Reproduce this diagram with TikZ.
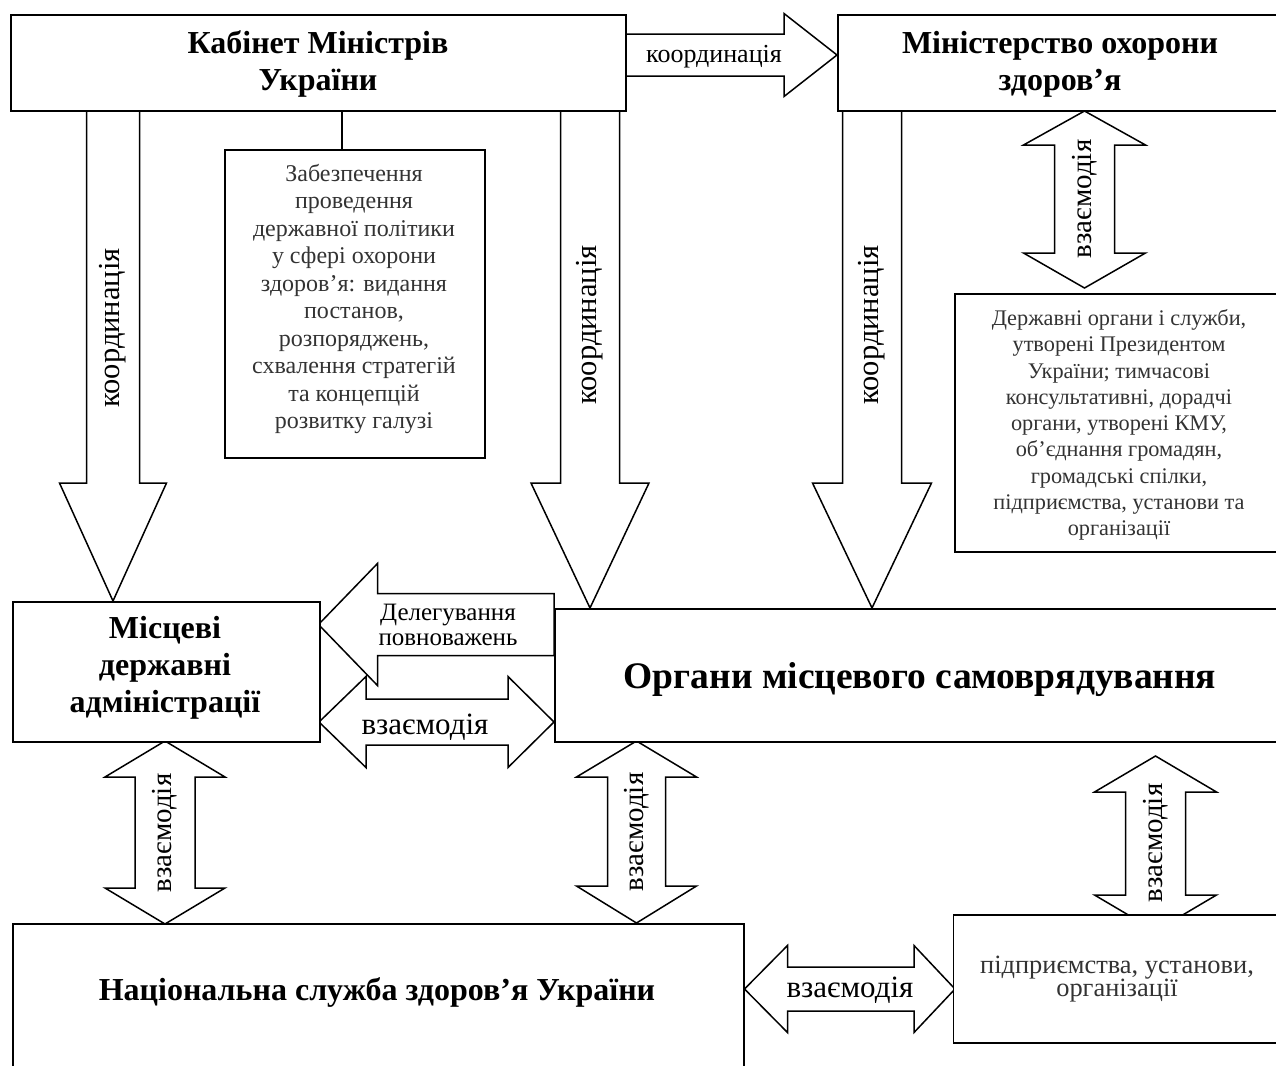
\documentclass[tikz,border=0pt]{standalone}
\usepackage{fontspec}
\setmainfont{Liberation Serif}
\newcommand\vsingle[6]{% cx ytop ybase ytip sh hh
  \draw[arr] ({#1-#5},#2) -- ({#1-#5},#3) -- ({#1-#6},#3) -- (#1,#4) -- ({#1+#6},#3) -- ({#1+#5},#3) -- ({#1+#5},#2) -- cycle;}
\newcommand\vdouble[7]{% cx ytop ybot sh hh hltop hlbot
  \draw[arr] (#1,#2) -- ({#1+#5},{#2+#6}) -- ({#1+#4},{#2+#6}) -- ({#1+#4},{#3-#7}) -- ({#1+#5},{#3-#7}) -- (#1,#3) -- ({#1-#5},{#3-#7}) -- ({#1-#4},{#3-#7}) -- ({#1-#4},{#2+#6}) -- ({#1-#5},{#2+#6}) -- cycle;}
\newcommand\hdouble[7]{% xl xr cy sh hh hll hlr
  \draw[arr] (#1,#3) -- ({#1+#6},{#3-#5}) -- ({#1+#6},{#3-#4}) -- ({#2-#7},{#3-#4}) -- ({#2-#7},{#3-#5}) -- (#2,#3) -- ({#2-#7},{#3+#5}) -- ({#2-#7},{#3+#4}) -- ({#1+#6},{#3+#4}) -- ({#1+#6},{#3+#5}) -- cycle;}
\newcommand\hsingle[6]{% xtail xbase xtip cy sh hh
  \draw[arr] (#1,{#4-#5}) -- (#2,{#4-#5}) -- (#2,{#4-#6}) -- (#3,#4) -- (#2,{#4+#6}) -- (#2,{#4+#5}) -- (#1,{#4+#5}) -- cycle;}
\begin{document}
\begin{tikzpicture}[x=1bp,y=-1bp,
  arr/.style={draw=black, fill=white, line width=1.5bp, line join=miter},
  box/.style={draw=black, fill=white, line width=1.7bp, rectangle, inner sep=0pt, anchor=north west},
  title/.style={font=\bfseries\fontsize{32bp}{37bp}\selectfont, align=center, text=black},
  body/.style={font=\fontsize{24bp}{27.5bp}\selectfont, align=center, text=black!80},
  vlab/.style={font=\fontsize{30.5bp}{34bp}\selectfont, rotate=90, text=black},
  ilab/.style={font=\fontsize{29bp}{33bp}\selectfont, rotate=90, text=black},
  hlab/.style={font=\fontsize{31bp}{35bp}\selectfont, text=black}]
\useasboundingbox (0,0) rectangle (1276,1066);
\fill[white] (0,0) rectangle (1276,1066);
\clip (0,0) rectangle (1276,1066);

% ---------- block arrows ----------
% KMU -> MOZ
\hsingle{625}{784}{837}{55}{21}{41.5}
% coordination down arrows
\vsingle{113}{110}{483}{601}{26.5}{53.5}
\vsingle{590}{110}{483}{608}{29.5}{59}
\vsingle{872}{110}{483}{608}{29.5}{59.5}
% MOZ <-> state bodies
\vdouble{1084.5}{111}{288}{30}{61}{34}{35}
% delegation
\hsingle{554}{377.5}{318.5}{624.5}{31}{61}
% interaction MDA <-> OMS
\hdouble{319}{554}{722}{23}{45.5}{47}{46}
% bottom vertical interactions
\vdouble{165}{741}{924}{30}{60}{36}{36}
\vdouble{636.5}{741}{923}{29}{60}{36}{37}
\vdouble{1155.5}{756}{931}{30}{61}{36}{36}
% NSZU <-> enterprises
\hdouble{744.5}{955}{989}{22}{43.5}{43}{41}

% ---------- boxes ----------
\node[box, minimum width=615bp, minimum height=96bp] (kmu) at (10,14) {};
\node[box, minimum width=463bp, minimum height=96bp] (moz) at (837,14) {};
\node[box, minimum width=260bp, minimum height=308bp] (zab) at (224,149) {};
\node[box, minimum width=346bp, minimum height=258bp] (derzh) at (954,293) {};
\node[box, minimum width=307bp, minimum height=140bp] (mda) at (12,601) {};
\node[box, minimum width=746bp, minimum height=133bp] (oms) at (554,608) {};
\node[box, minimum width=731bp, minimum height=177bp] (nszu) at (12,923) {};
\node[box, minimum width=348bp, minimum height=128bp] (pidpr) at (952.5,914) {};

\coordinate (c1) at (342,110);
\draw[line width=1.5bp] (c1) -- (c1 |- zab.north);

% ---------- texts ----------
\node[title] (tkmu) at (318,64) {Кабінет Міністрів\\України};
\node[title] (tmoz) at (1060,64) {Міністерство охорони\\здоров’я};
\node[body] (tzab) at (354,299) {Забезпечення\\проведення\\державної політики\\у сфері охорони\\здоров’я: видання\\постанов,\\розпоряджень,\\схвалення стратегій\\та концепцій\\розвитку галузі};
\node[body, font=\fontsize{22.3bp}{26.25bp}\selectfont] (tderzh) at (1119,425) {Державні органи і служби,\\утворені Президентом\\України; тимчасові\\консультативні, дорадчі\\органи, утворені КМУ,\\об’єднання громадян,\\громадські спілки,\\підприємства, установи та\\організації};
\node[title] (tmda) at (165,668) {Місцеві\\державні\\адміністрації};
\node[title, font=\bfseries\fontsize{37.5bp}{42bp}\selectfont] (toms) at (920,680) {Органи місцевого самоврядування};
\node[title] (tnszu) at (377,992) {Національна служба здоров’я України};
\node[body, font=\fontsize{26.4bp}{23.8bp}\selectfont] (tpidpr) at (1117,979) {підприємства, установи,\\організації};

\node[font=\fontsize{26bp}{30bp}\selectfont] (lk0) at (714,57) {координація};
\node[vlab] (lk1) at (113,328) {координація};
\node[vlab] (lk2) at (590,325) {координація};
\node[vlab] (lk3) at (872,325) {координація};
\node[font=\fontsize{25bp}{24.5bp}\selectfont, align=center] (ldel) at (448,625) {Делегування\\повноважень};
\node[hlab] (lv0) at (425,727) {взаємодія};
\node[hlab] (lv1) at (850,990) {взаємодія};
\node[ilab] (lv2) at (1084.5,199) {взаємодія};
\node[ilab] (lv3) at (165,833) {взаємодія};
\node[ilab] (lv4) at (636.5,832) {взаємодія};
\node[ilab] (lv5) at (1155.5,843) {взаємодія};
\end{tikzpicture}
\end{document}
